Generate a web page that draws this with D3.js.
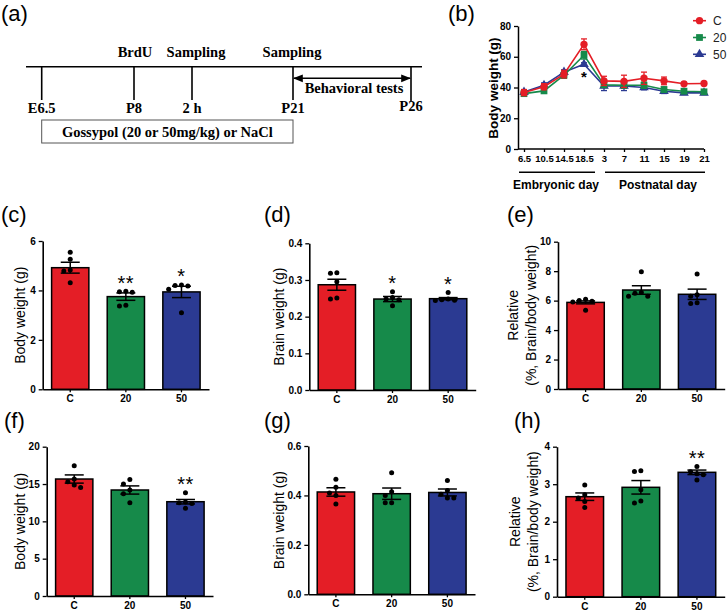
<!DOCTYPE html>
<html><head><meta charset="utf-8">
<script src="https://cdn.jsdelivr.net/npm/d3@7"></script>
<style>body{margin:0;background:#fff} svg{display:block;background:#fff}</style>
</head><body>
<svg id="fig" width="728" height="611"></svg>
<script>
// ---------- data ----------
const groups = ["C", "20", "50"];
const groupColors = ["#E41E26", "#168A4A", "#2B3A92"];

// (a) timeline
const tlLabels = ["E6.5", "P8", "2 h", "P21", "P26"];
const tlAbove = ["", "BrdU", "Sampling", "Sampling", ""];
const tlBox = "Gossypol (20 or 50mg/kg) or NaCl";
const tlArrow = "Behavioral tests";

// (b) body weight of dams
const bDays = ["6.5", "10.5", "14.5", "18.5", "3", "7", "11", "15", "19", "21"];
const bC     = [36.7, 40.5, 48.7, 68.1, 44.3, 44.0, 46.0, 44.3, 42.4, 42.6];
const bCsem  = [2, 2, 2.5, 3.5, 3, 4, 4, 2.5, 1, 1];
const b20    = [36.0, 37.8, 48.0, 61.0, 41.7, 41.5, 41.5, 38.7, 37.6, 37.2];
const b20sem = [1.5, 1, 2, 2.5, 1.5, 2, 2, 1.5, 1, 1];
const b50    = [37.0, 41.5, 50.0, 55.1, 41.0, 41.0, 40.0, 37.6, 36.5, 36.5];
const b50sem = [1.5, 1.5, 1.5, 1, 3, 3, 1.5, 1.5, 1, 1];
const bTicks = [0, 20, 40, 60, 80];
const bStarIndex = 3;

// (c) body weight (g), P8
const cMean = [4.92, 3.75, 3.94];
const cSem = [0.22, 0.15, 0.23];
const cDots = [[5.54, 5.26, 4.83, 4.79, 4.31], [3.95, 3.93, 3.97, 3.37, 3.40], [4.22, 4.20, 4.05, 4.18, 3.10]];
const cStars = ["", "**", "*"];
const cTicks = [0, 2, 4, 6];

// (d) brain weight (g), P8
const dMean = [0.287, 0.248, 0.249];
const dSem = [0.015, 0.007, 0.003];
const dDots = [[0.320, 0.318, 0.295, 0.248, 0.251], [0.268, 0.252, 0.248, 0.246, 0.230], [0.266, 0.248, 0.245, 0.246, 0.244]];
const dStars = ["", "*", "*"];
const dTicks = [0, 0.1, 0.2, 0.3, 0.4];

// (e) relative brain/body weight, P8
const eMean = [5.88, 6.72, 6.43];
const eSem = [0.1, 0.29, 0.35];
const eDots = [[6.10, 5.95, 5.90, 6.00, 5.35], [7.96, 6.50, 6.30, 6.30, 6.55], [7.80, 6.40, 6.30, 5.80, 5.85]];
const eStars = ["", "", ""];
const eTicks = [0, 2, 4, 6, 8, 10];

// (f) body weight (g), P21
const fMean = [15.67, 14.2, 12.63];
const fSem = [0.55, 0.55, 0.3];
const fDots = [[17.45, 15.67, 15.3, 14.87, 14.55], [15.6, 15.0, 14.2, 13.7, 12.5], [13.84, 12.6, 12.4, 11.75, 12.5]];
const fStars = ["", "", "**"];
const fTicks = [0, 5, 10, 15, 20];

// (g) brain weight (g), P21
const gMean = [0.414, 0.407, 0.412];
const gSem = [0.017, 0.023, 0.014];
const gDots = [[0.465, 0.433, 0.410, 0.400, 0.365], [0.492, 0.415, 0.400, 0.370, 0.370], [0.460, 0.420, 0.405, 0.390, 0.390]];
const gStars = ["", "", ""];
const gTicks = [0, 0.2, 0.4, 0.6];

// (h) relative brain/body weight, P21
const hMean = [2.667, 2.917, 3.317];
const hSem = [0.1, 0.18, 0.06];
const hDots = [[2.98, 2.72, 2.63, 2.54, 2.38], [3.36, 3.34, 2.85, 2.55, 2.50], [3.47, 3.33, 3.28, 3.25, 3.11]];
const hStars = ["", "", "**"];
const hTicks = [0, 1, 2, 3, 4];

// ---------- drawing ----------
const svg = d3.select("#fig");
const SANS = "'Liberation Sans', Arial, sans-serif";
const SERIF = "'Liberation Serif', 'Times New Roman', serif";

function letter(txt, x, y) {
  svg.append("text").attr("x", x).attr("y", y).text(txt)
    .attr("font-family", SANS).attr("font-size", 22).attr("fill", "#000");
}

// ----- (a) -----
(function () {
  letter("(a)", 1, 21);
  const g = svg.append("g");
  const xs = d3.scaleOrdinal().domain(tlLabels).range([41.7, 134, 192, 293, 411]);
  const lineY = 66.7;
  g.append("line").attr("x1", 26).attr("x2", 422).attr("y1", lineY).attr("y2", lineY)
    .attr("stroke", "#000").attr("stroke-width", 1.6);
  tlLabels.forEach((l, i) => {
    const last = i === tlLabels.length - 1;
    g.append("line").attr("x1", xs(l)).attr("x2", xs(l)).attr("y1", lineY).attr("y2", last ? 101 : 100)
      .attr("stroke", "#000").attr("stroke-width", 1.6);
    g.append("text").attr("x", xs(l)).attr("y", last ? 111 : 113).text(l)
      .attr("text-anchor", "middle").attr("font-family", SERIF).attr("font-weight", "bold").attr("font-size", 14.5);
    if (tlAbove[i]) {
      const off = tlAbove[i] === "BrdU" ? 1 : (i === 2 ? 4 : -1);
      g.append("text").attr("x", xs(l) + off).attr("y", 57).text(tlAbove[i])
        .attr("text-anchor", "middle").attr("font-family", SERIF).attr("font-weight", "bold").attr("font-size", 14.5);
    }
  });
  // arrow
  const ax1 = xs("P21"), ax2 = xs("P26"), ay = 78.3;
  const defs = svg.append("defs");
  defs.append("marker").attr("id", "ah").attr("viewBox", "0 0 10 10").attr("refX", 9).attr("refY", 5)
    .attr("markerWidth", 7).attr("markerHeight", 7).attr("orient", "auto-start-reverse")
    .append("path").attr("d", "M0,1 L10,5 L0,9 z").attr("fill", "#000");
  g.append("line").attr("x1", ax1 + 1).attr("x2", ax2 - 1).attr("y1", ay).attr("y2", ay)
    .attr("stroke", "#000").attr("stroke-width", 1.4)
    .attr("marker-start", "url(#ah)").attr("marker-end", "url(#ah)");
  g.append("text").attr("x", (ax1 + ax2) / 2 + 2).attr("y", 93).text(tlArrow)
    .attr("text-anchor", "middle").attr("font-family", SERIF).attr("font-weight", "bold").attr("font-size", 14.5);
  // box
  g.append("rect").attr("x", xs("E6.5")).attr("y", 120).attr("width", xs("P21") - xs("E6.5")).attr("height", 23)
    .attr("fill", "none").attr("stroke", "#555").attr("stroke-width", 1);
  g.append("text").attr("x", (xs("E6.5") + xs("P21")) / 2).attr("y", 137).text(tlBox)
    .attr("text-anchor", "middle").attr("font-family", SERIF).attr("font-weight", "bold").attr("font-size", 14.5);
})();

// ----- (b) -----
(function () {
  letter("(b)", 448, 21);
  const g = svg.append("g");
  const axX0 = 518, yTop = 26, yBot = 149;
  const x = d3.scalePoint().domain(bDays).range([524, 704]);
  const y = d3.scaleLinear().domain([0, 80]).range([yBot, yTop]);
  const ya = g.append("g").attr("transform", `translate(${axX0},0)`)
    .call(d3.axisLeft(y).tickValues(bTicks).tickSize(4).tickSizeOuter(0));
  const xa = g.append("g").attr("transform", `translate(0,${yBot})`)
    .call(d3.axisBottom(x).tickSize(3).tickPadding(3));
  xa.select(".domain").remove();
  g.append("line").attr("x1", axX0).attr("x2", 704).attr("y1", yBot).attr("y2", yBot)
    .attr("stroke", "#000").attr("stroke-width", 1.5);
  [ya, xa].forEach(a => {
    a.selectAll("text").attr("font-family", SANS).attr("font-weight", "bold").attr("fill", "#000");
    a.selectAll("line").attr("stroke", "#000").attr("stroke-width", 1.3);
    a.selectAll(".domain").attr("stroke", "#000").attr("stroke-width", 1.5);
  });
  ya.selectAll("text").attr("font-size", 10);
  xa.selectAll("text").attr("font-size", 9.5);
  g.append("text").attr("transform", `translate(493,88) rotate(-90)`).attr("text-anchor", "middle")
    .attr("dy", "0.35em").text("Body weight (g)")
    .attr("font-family", SANS).attr("font-weight", "bold").attr("font-size", 13.5);
  g.append("line").attr("x1", x("6.5") - 5).attr("x2", x("18.5") + 11).attr("y1", 172.3).attr("y2", 172.3)
    .attr("stroke", "#000").attr("stroke-width", 1.5);
  g.append("line").attr("x1", x("3") + 1).attr("x2", x("21") + 1).attr("y1", 172.3).attr("y2", 172.3)
    .attr("stroke", "#000").attr("stroke-width", 1.5);
  g.append("text").attr("x", 556).attr("y", 189).attr("text-anchor", "middle").text("Embryonic day")
    .attr("font-family", SANS).attr("font-weight", "bold").attr("font-size", 12);
  g.append("text").attr("x", 658).attr("y", 189).attr("text-anchor", "middle").text("Postnatal day")
    .attr("font-family", SANS).attr("font-weight", "bold").attr("font-size", 12);

  const series = [
    { name: "50", vals: b50, sem: b50sem, color: groupColors[2], sym: d3.symbolTriangle, size: 40 },
    { name: "20", vals: b20, sem: b20sem, color: groupColors[1], sym: d3.symbolSquare, size: 46 },
    { name: "C", vals: bC, sem: bCsem, color: groupColors[0], sym: d3.symbolCircle, size: 42 }
  ];
  const line = d3.line().x((d, i) => x(bDays[i])).y(d => y(d));
  series.forEach(s => {
    const sg = g.append("g");
    s.vals.forEach((v, i) => {
      const cx = x(bDays[i]);
      sg.append("line").attr("x1", cx).attr("x2", cx).attr("y1", y(v - s.sem[i])).attr("y2", y(v + s.sem[i]))
        .attr("stroke", s.color).attr("stroke-width", 1.3);
      [v - s.sem[i], v + s.sem[i]].forEach(e => sg.append("line").attr("x1", cx - 3).attr("x2", cx + 3)
        .attr("y1", y(e)).attr("y2", y(e)).attr("stroke", s.color).attr("stroke-width", 1.3));
    });
    sg.append("path").datum(s.vals).attr("d", line).attr("fill", "none").attr("stroke", s.color).attr("stroke-width", 1.6);
    s.vals.forEach((v, i) => sg.append("path").attr("d", d3.symbol(s.sym, s.size)())
      .attr("transform", `translate(${x(bDays[i])},${y(v)})`).attr("fill", s.color));
  });
  g.append("text").attr("x", x(bDays[bStarIndex])).attr("y", y(b50[bStarIndex]) + 18).attr("text-anchor", "middle")
    .text("*").attr("font-family", SANS).attr("font-weight", "bold").attr("font-size", 15);
  const legend = [series[2], series[1], series[0]];
  legend.forEach((s, i) => {
    const ly = 20.7 + i * 16.8;
    g.append("line").attr("x1", 693).attr("x2", 706).attr("y1", ly).attr("y2", ly).attr("stroke", s.color).attr("stroke-width", 1.6);
    g.append("path").attr("d", d3.symbol(s.sym, s.size)()).attr("transform", `translate(699.5,${ly})`).attr("fill", s.color);
    g.append("text").attr("x", 713).attr("y", ly).attr("dy", "0.36em").text(s.name)
      .attr("font-family", SANS).attr("font-size", 12).attr("fill", "#222");
  });
})();

// ----- bar panels -----
function swarm(vals, yScale, cx) {
  const order = vals.map((v, i) => i).sort((a, b) => vals[b] - vals[a]);
  const placed = [];
  const out = new Array(vals.length);
  const sp = 6.4;
  order.forEach(i => {
    const py = yScale(vals[i]);
    const offs = [0, -1, 1, -2, 2, -3, 3];
    for (const o of offs) {
      const px = cx + o * sp;
      if (placed.every(p => Math.hypot(p[0] - px, p[1] - py) >= 5.8)) {
        placed.push([px, py]); out[i] = [px, py]; break;
      }
    }
  });
  return out;
}

function barPanel(cfg) {
  letter(cfg.letter, cfg.lx, cfg.ly);
  const g = svg.append("g");
  const top = cfg.ticks[cfg.ticks.length - 1];
  const y = d3.scaleLinear().domain([0, top]).range([cfg.yBot, cfg.yTop]);
  const x = d3.scaleBand().domain(groups).range([cfg.x0, cfg.x1]).paddingInner(0.33).paddingOuter(0.16);
  const bw = x.bandwidth();
  groups.forEach((gr, i) => {
    g.append("rect").attr("x", x(gr)).attr("y", y(cfg.mean[i])).attr("width", bw)
      .attr("height", cfg.yBot - y(cfg.mean[i])).attr("fill", groupColors[i])
      .attr("stroke", "#000").attr("stroke-width", 1.5);
  });
  groups.forEach((gr, i) => {
    const cx = x(gr) + bw / 2;
    swarm(cfg.dots[i], y, cx).forEach(p => g.append("circle").attr("cx", p[0]).attr("cy", p[1]).attr("r", 2.5).attr("fill", "#000"));
  });
  groups.forEach((gr, i) => {
    const cx = x(gr) + bw / 2;
    const lo = cfg.mean[i] - cfg.sem[i], hi = cfg.mean[i] + cfg.sem[i];
    g.append("line").attr("x1", cx).attr("x2", cx).attr("y1", y(lo)).attr("y2", y(hi)).attr("stroke", "#000").attr("stroke-width", 1.5);
    [lo, hi].forEach(e => g.append("line").attr("x1", cx - 9.5).attr("x2", cx + 9.5).attr("y1", y(e)).attr("y2", y(e))
      .attr("stroke", "#000").attr("stroke-width", 1.5));
    if (cfg.stars[i]) {
      const m = Math.max(hi, d3.max(cfg.dots[i]));
      g.append("text").attr("x", cx).attr("y", y(m) - 12.5 + 11).attr("text-anchor", "middle").text(cfg.stars[i])
        .attr("font-family", SANS).attr("font-size", 20).attr("letter-spacing", "0.5px").attr("fill", "#000");
    }
  });
  const ya = g.append("g").attr("transform", `translate(${cfg.x0},0)`)
    .call(d3.axisLeft(y).tickValues(cfg.ticks).tickFormat(cfg.fmt).tickSize(4).tickSizeOuter(0).tickPadding(3));
  const xa = g.append("g").attr("transform", `translate(0,${cfg.yBot})`)
    .call(d3.axisBottom(x).tickSize(3).tickSizeOuter(0).tickPadding(3));
  [ya, xa].forEach(a => {
    a.selectAll("text").attr("font-family", SANS).attr("font-weight", "bold").attr("font-size", 10).attr("fill", "#000");
    a.selectAll("line").attr("stroke", "#000").attr("stroke-width", 1.3);
    a.select(".domain").attr("stroke", "#000").attr("stroke-width", 1.6);
  });
  const mid = (cfg.yTop + cfg.yBot) / 2;
  cfg.label.forEach((t, k) => {
    g.append("text").attr("transform", `translate(${cfg.labelX[k]},${mid}) rotate(-90)`).attr("text-anchor", "middle")
      .attr("dy", "0.35em").text(t).attr("font-family", SANS).attr("font-size", 14).attr("fill", "#000");
  });
}

const f0 = d3.format("d"), f1 = d3.format(".1f");
barPanel({ letter: "(c)", lx: 1, ly: 222, x0: 42.7, x1: 209, yTop: 241, yBot: 389.3, mean: cMean, sem: cSem, dots: cDots, stars: cStars, ticks: cTicks, fmt: f0, label: ["Body weight (g)"], labelX: [20] });
barPanel({ letter: "(d)", lx: 264, ly: 222, x0: 309.3, x1: 475.7, yTop: 243.3, yBot: 390, mean: dMean, sem: dSem, dots: dDots, stars: dStars, ticks: dTicks, fmt: f1, label: ["Brain weight (g)"], labelX: [279] });
barPanel({ letter: "(e)", lx: 507, ly: 222, x0: 558, x1: 724.7, yTop: 241.7, yBot: 389, mean: eMean, sem: eSem, dots: eDots, stars: eStars, ticks: eTicks, fmt: f0, label: ["Relative", "(%, Brain/body weight)"], labelX: [513, 531] });
barPanel({ letter: "(f)", lx: 4, ly: 428, x0: 46.7, x1: 213, yTop: 446.7, yBot: 596, mean: fMean, sem: fSem, dots: fDots, stars: fStars, ticks: fTicks, fmt: f0, label: ["Body weight (g)"], labelX: [20] });
barPanel({ letter: "(g)", lx: 264, ly: 428, x0: 308.3, x1: 475, yTop: 446, yBot: 594.3, mean: gMean, sem: gSem, dots: gDots, stars: gStars, ticks: gTicks, fmt: f1, label: ["Brain weight (g)"], labelX: [279] });
barPanel({ letter: "(h)", lx: 514, ly: 428, x0: 557, x1: 724.7, yTop: 446.7, yBot: 596.7, mean: hMean, sem: hSem, dots: hDots, stars: hStars, ticks: hTicks, fmt: f0, label: ["Relative", "(%, Brain/body weight)"], labelX: [515, 533] });
</script>
</body></html>
